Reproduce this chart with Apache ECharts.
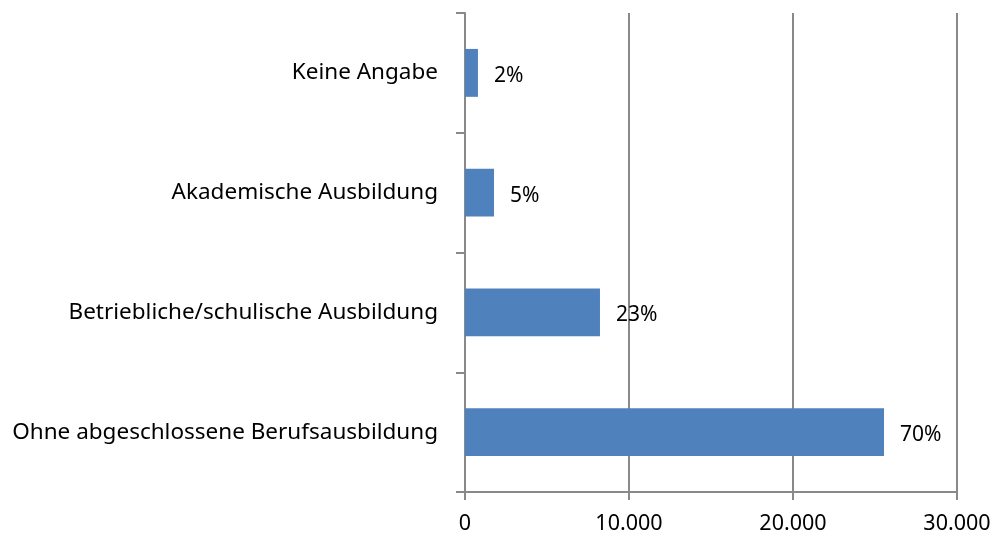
<!DOCTYPE html>
<html>
<head>
<meta charset="utf-8">
<script src="https://cdn.jsdelivr.net/npm/echarts@6/dist/echarts.min.js"></script>
<style>
  html, body { margin: 0; padding: 0; background: #fff; }
  #chart { width: 999px; height: 541px; }
</style>
</head>
<body>
<div id="chart"></div>
<script>
// bottom to top, like the picture
const categories = [
  "Ohne abgeschlossene Berufsausbildung",
  "Betriebliche/schulische Ausbildung",
  "Akademische Ausbildung",
  "Keine Angabe"
];
const values = [25550, 8230, 1770, 790];
const shares = ["70%", "23%", "5%", "2%"];
const xTicks = [0, 10000, 20000, 30000];

const font = "'Noto Sans', 'Open Sans', sans-serif";
const gray = "#898989";

let chart = echarts.init(document.getElementById("chart"));

let option = {
  animation: false,
  grid: {
    left: 465,
    right: 42,
    top: 13,
    bottom: 49,
    containLabel: false,
  },
  xAxis: {
    type: "value",
    min: xTicks[0],
    max: xTicks[xTicks.length - 1],
    interval: 10000,
    axisLine: { show: true, lineStyle: { color: gray, width: 2 } },
    axisTick: { show: true, length: 8, lineStyle: { color: gray, width: 2 } },
    splitLine: { show: true, lineStyle: { color: gray, width: 2 } },
    axisLabel: {
      margin: 21,
      color: "#000",
      fontFamily: font,
      fontSize: 21.5,
      formatter: (v) => v === 0 ? "0" : (v / 1000).toFixed(0) + ".000",
    },
  },
  yAxis: {
    type: "category",
    data: categories,
    axisLine: { show: true, lineStyle: { color: gray, width: 2 } },
    axisTick: { show: true, length: 9, lineStyle: { color: gray, width: 2 } },
    axisLabel: {
      margin: 27,
      color: "#000",
      fontFamily: font,
      fontSize: 22.5,
    },
  },
  series: [
    {
      type: "bar",
      data: values,
      barWidth: "40%",
      itemStyle: { color: "#4f81bd" },
      label: {
        show: true,
        position: "right",
        distance: 16,
        offset: [0, 3],
        color: "#000",
        fontFamily: font,
        fontSize: 21,
        formatter: (p) => shares[p.dataIndex],
      },
    },
  ],
};

chart.setOption(option);
</script>
</body>
</html>
